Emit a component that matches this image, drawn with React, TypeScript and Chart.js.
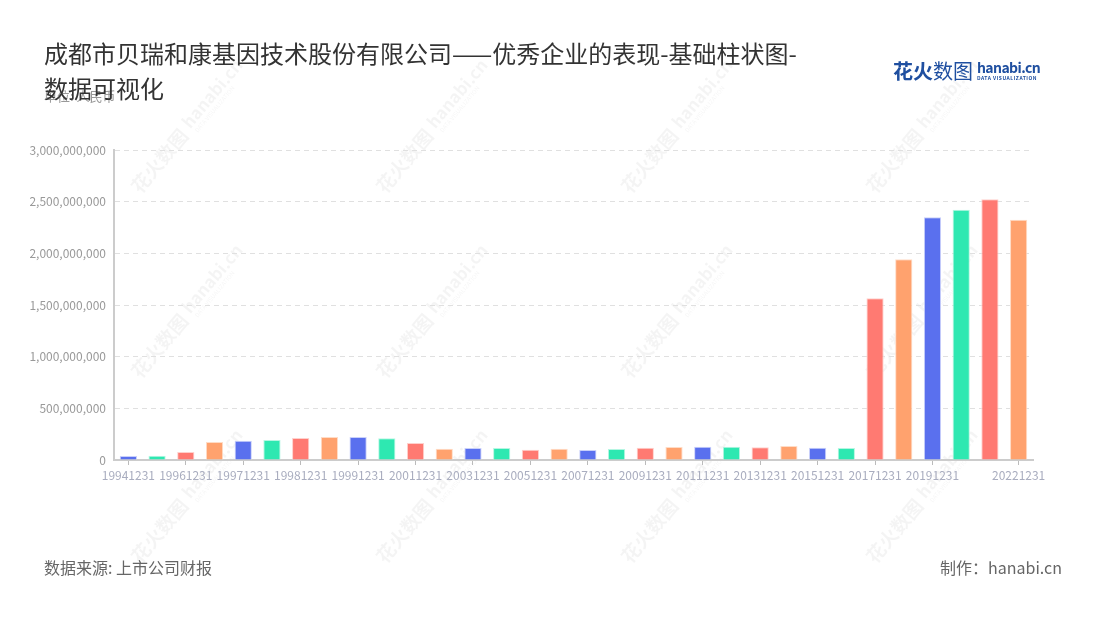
import React, { useEffect, useRef } from "react";
import { Chart, registerables } from "chart.js";

Chart.register(...registerables);

const categories: string[] = [
  "19941231", "19951231", "19961231", "19970630", "19971231", "19980630",
  "19981231", "19990630", "19991231", "20001231", "20011231", "20021231",
  "20031231", "20041231", "20051231", "20061231", "20071231", "20081231",
  "20091231", "20101231", "20111231", "20121231", "20131231", "20141231",
  "20151231", "20161231", "20171231", "20181231", "20191231", "20201231",
  "20211231", "20221231",
];

const values: number[] = [
  39000000, 42000000, 77000000, 174000000, 187000000, 194000000,
  213000000, 223000000, 223000000, 210000000, 165000000, 110000000,
  116000000, 116000000, 100000000, 110000000, 97000000, 106000000,
  119000000, 126000000, 129000000, 129000000, 123000000, 135000000,
  119000000, 116000000, 1565000000, 1942000000, 2349000000, 2422000000,
  2523000000, 2326000000,
];

const shownTickIndexes: number[] = [0, 2, 4, 6, 8, 10, 12, 14, 16, 18, 20, 22, 24, 26, 28, 31];

const palette: string[] = ["#5a70ee", "#2ee8b1", "#ff7a72", "#ffa26e"];
const paletteBorder: string[] = ["#c9d0fa", "#b5f6e2", "#ffd0cc", "#ffdcc6"];

const FONT = '"Noto Sans CJK SC", "Noto Sans", sans-serif';

const watermarkPlugin = {
  id: "watermark",
  beforeDraw(chart: any) {
    const ctx = chart.ctx as CanvasRenderingContext2D;
    ctx.save();
    const xs = [135, 380, 625, 870];
    const ys = [190, 375, 560];
    for (const x of xs) {
      for (const y of ys) {
        ctx.save();
        ctx.translate(x, y);
        ctx.rotate(-50 * Math.PI / 180);
        ctx.fillStyle = "rgba(0,0,0,0.045)";
        ctx.font = `bold 19px ${FONT}`;
        ctx.textBaseline = "middle";
        ctx.fillText("花火数图", 0, 0);
        const w = ctx.measureText("花火数图").width;
        ctx.font = `bold 17px ${FONT}`;
        ctx.fillText("hanabi.cn", w + 6, -3);
        ctx.font = `6px ${FONT}`;
        ctx.fillText("DATA VISUALIZATION", w + 8, 9);
        ctx.restore();
      }
    }
    ctx.restore();
  },
};

function BarChart() {
  const ref = useRef<HTMLCanvasElement | null>(null);
  useEffect(() => {
    if (!ref.current) return;
    const chart = new Chart(ref.current, {
      type: "bar",
      data: {
        labels: categories,
        datasets: [
          {
            data: values,
            backgroundColor: values.map((_, i) => palette[i % 4]),
            borderColor: values.map((_, i) => paletteBorder[i % 4]),
            borderWidth: 1,
            barPercentage: 0.6,
            categoryPercentage: 1,
          },
        ],
      },
      options: {
        animation: false,
        responsive: false,
        maintainAspectRatio: false,
        layout: { padding: { left: 0, right: 67, top: 150, bottom: 0 } },
        plugins: {
          legend: { display: false },
          tooltip: { enabled: false },
          title: { display: false },
        },
        scales: {
          x: {
            offset: true,
            afterFit: (scale: any) => {
              scale.height = 160;
            },
            grid: {
              offset: false,
              drawOnChartArea: false,
              drawTicks: true,
              tickLength: 5,
              color: "#bbbbbb",
              lineWidth: 1,
            },
            border: { display: true, color: "#cccccc", width: 2 },
            ticks: {
              autoSkip: false,
              maxRotation: 0,
              minRotation: 0,
              padding: 3,
              color: "#a9adbf",
              font: { family: FONT, size: 12 },
              callback: function (this: any, _v: any, index: number) {
                return shownTickIndexes.includes(index) ? categories[index] : null;
              },
            },
          },
          y: {
            min: 0,
            max: 3000000000,
            afterFit: (scale: any) => {
              scale.width = 114;
            },
            grid: {
              drawTicks: false,
              color: (c: any) => (c.tick && c.tick.value === 0 ? "rgba(0,0,0,0)" : "#e0e0e0"),
              lineWidth: 1,
            },
            border: { display: true, color: "#cccccc", width: 2, dash: [5, 4] } as any,
            ticks: {
              stepSize: 500000000,
              padding: 8,
              color: "#999999",
              font: { family: FONT, size: 12 },
              callback: (v: any) => Number(v).toLocaleString("en-US"),
            },
          },
        },
      },
      plugins: [watermarkPlugin],
    } as any);
    return () => chart.destroy();
  }, []);
  return <canvas ref={ref} width={1100} height={620} style={{ position: "absolute", left: 0, top: 0 }} />;
}

export default function App() {
  return (
    <div style={{ position: "absolute", left: 0, top: 0, width: 1100, height: 620, background: "#fff", fontFamily: FONT, overflow: "hidden" }}>
      <BarChart />
      <div style={{ position: "absolute", left: 44, top: 88, fontSize: 13, color: "#999", lineHeight: "16px" }}>单位: 人民币</div>
      <div style={{ position: "absolute", left: 44, top: 35, fontSize: 24, color: "#333", lineHeight: "35px", whiteSpace: "nowrap" }}>
        成都市贝瑞和康基因技术股份有限公司——优秀企业的表现-基础柱状图-
        <br />
        数据可视化
      </div>
      <div style={{ position: "absolute", left: 893, top: 58, whiteSpace: "nowrap", color: "#1f4fa0", display: "flex", alignItems: "flex-start" }}>
        <span style={{ fontSize: 20, lineHeight: "26px", fontWeight: 700 }}>花火</span>
        <span style={{ fontSize: 20, lineHeight: "26px", fontWeight: 400 }}>数图</span>
        <span style={{ display: "inline-block", marginLeft: 4, marginTop: 2 }}>
          <span style={{ display: "block", fontSize: 14, lineHeight: "15px", fontWeight: 700, letterSpacing: -0.6 }}>hanabi.cn</span>
          <span style={{ display: "block", fontSize: 5, lineHeight: "6px", fontWeight: 700, letterSpacing: 0.5 }}>DATA VISUALIZATION</span>
        </span>
      </div>
      <div style={{ position: "absolute", left: 44, top: 556, fontSize: 16, color: "#666", lineHeight: "22px" }}>数据来源: 上市公司财报</div>
      <div style={{ position: "absolute", right: 38, top: 556, fontSize: 16, color: "#666", lineHeight: "22px" }}>制作：hanabi.cn</div>
    </div>
  );
}
